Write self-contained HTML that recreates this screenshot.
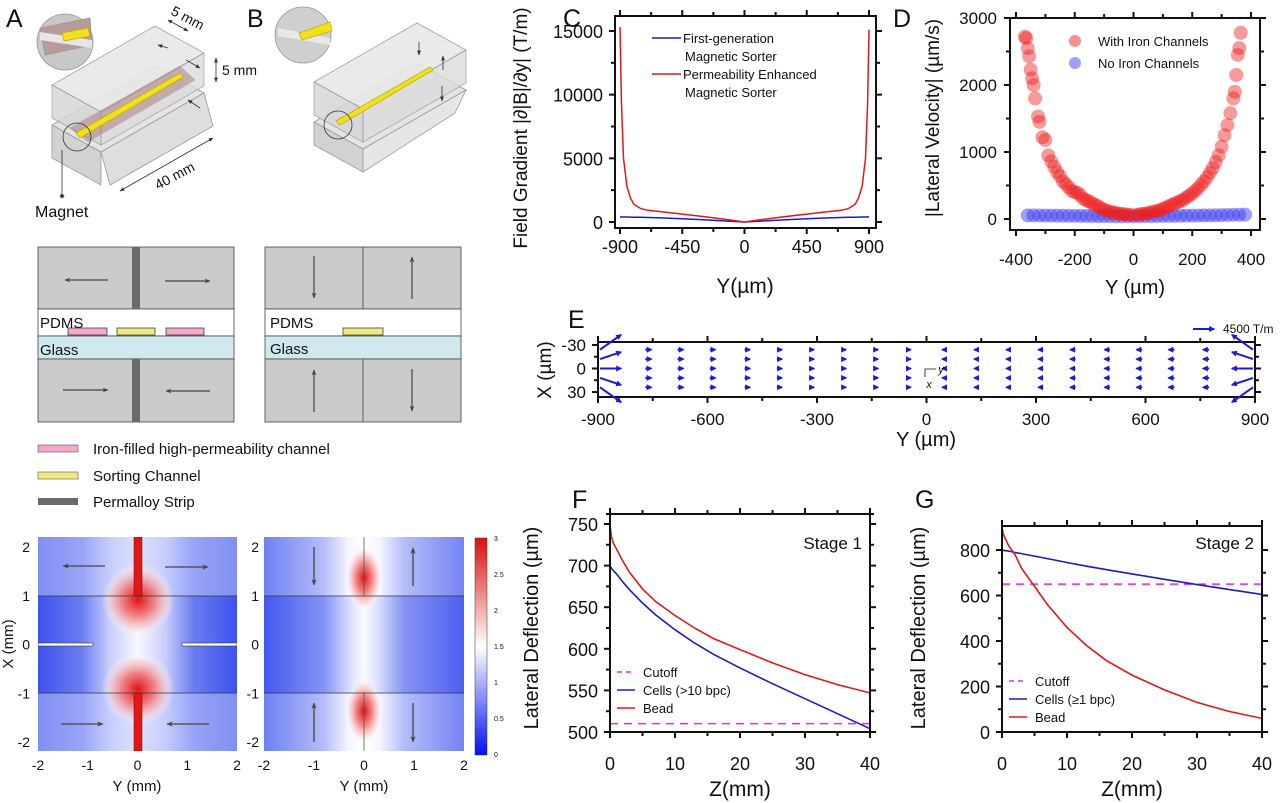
<!DOCTYPE html>
<html><head><meta charset="utf-8"><style>
html,body{margin:0;padding:0;background:#fff;}
svg{display:block;font-family:"Liberation Sans",Arial,sans-serif;}
</style></head><body>
<svg id="fig" width="1280" height="803" viewBox="0 0 1280 803" xmlns="http://www.w3.org/2000/svg">
<defs>
<linearGradient id="hmL" x1="0" x2="1" y1="0" y2="0">
<stop offset="0" stop-color="#3d52ee"/><stop offset="0.22" stop-color="#6c7df2"/><stop offset="0.36" stop-color="#c8cefb"/><stop offset="0.5" stop-color="#f8f8ff"/><stop offset="0.64" stop-color="#c8cefb"/><stop offset="0.78" stop-color="#6c7df2"/><stop offset="1" stop-color="#3d52ee"/></linearGradient>
<linearGradient id="hmR" x1="0" x2="1" y1="0" y2="0">
<stop offset="0" stop-color="#4358ef"/><stop offset="0.3" stop-color="#8593f4"/><stop offset="0.44" stop-color="#e0e4fd"/><stop offset="0.5" stop-color="#fafaff"/><stop offset="0.56" stop-color="#e0e4fd"/><stop offset="0.7" stop-color="#8593f4"/><stop offset="1" stop-color="#4d60f0"/></linearGradient>
<linearGradient id="hmRout" x1="0" x2="1" y1="0" y2="0">
<stop offset="0" stop-color="#6f80f3"/><stop offset="0.3" stop-color="#b4bdf8"/><stop offset="0.42" stop-color="#f4f5ff"/><stop offset="0.5" stop-color="#ffffff"/><stop offset="0.58" stop-color="#f4f5ff"/><stop offset="0.7" stop-color="#b4bdf8"/><stop offset="1" stop-color="#7383f3"/></linearGradient>
<radialGradient id="redBlob"><stop offset="0" stop-color="#e01010"/><stop offset="0.45" stop-color="#f07070" stop-opacity="0.85"/><stop offset="0.8" stop-color="#fbd0d0" stop-opacity="0.6"/><stop offset="1" stop-color="#ffffff" stop-opacity="0"/></radialGradient>
<linearGradient id="cbar" x1="0" x2="0" y1="0" y2="1"><stop offset="0" stop-color="#d81010"/><stop offset="0.5" stop-color="#ffffff"/><stop offset="1" stop-color="#0010f0"/></linearGradient>
<clipPath id="clipL"><rect x="38" y="537" width="199" height="214"/></clipPath>
<clipPath id="clipR"><rect x="264" y="537" width="200" height="214"/></clipPath>
<marker id="ah" viewBox="0 0 10 10" refX="9" refY="5" markerWidth="5" markerHeight="5" orient="auto"><path d="M0,1 L10,5 L0,9 L3,5z" fill="#444"/></marker>
<marker id="ahs" viewBox="0 0 10 10" refX="9" refY="5" markerWidth="6" markerHeight="6" orient="auto-start-reverse"><path d="M0,1 L10,5 L0,9z" fill="#333"/></marker>
</defs>

<g font-size="25" fill="#111">
<text x="6" y="27">A</text>
<text x="247" y="27">B</text>
<text x="563" y="27">C</text>
<text x="893" y="27">D</text>
<text x="568" y="328">E</text>
<text x="572" y="508">F</text>
<text x="915" y="508">G</text>
</g>

<g stroke="#999" stroke-width="0.8">
<circle cx="65" cy="42" r="28" fill="#c8c8c8"/>
<polygon points="40,28 90,18 92,45 45,55" fill="#b89a9a"/>
<polygon points="40,32 92,40 92,48 40,40" fill="#e6e6e6" stroke="none"/>
<polygon points="62,33 88,28 90,36 64,41" fill="#f0e020" stroke="#c0b000"/>
<g>
<polygon points="52,125 155,66 204,93 101,152" fill="#e4e4e4"/>
<polygon points="52,125 101,152 101,185 52,158" fill="#d2d2d2"/>
<polygon points="101,152 204,93 213,126 110,185" fill="#dedede"/>
</g>
<g>
<polygon points="52,85 155,26 204,53 101,112" fill="#e8e8e8" opacity="0.9"/>
<polygon points="52,85 101,112 101,145 52,118" fill="#d6d6d6" opacity="0.85"/>
<polygon points="101,112 204,53 204,86 101,145" fill="#dcdcdc" opacity="0.8"/>
</g>
<polygon points="70,128 180,66 195,80 88,142" fill="#b08080" opacity="0.55"/>
<polygon points="76,133 180,73 183,77 80,138" fill="#f0e020" stroke="#c0b000"/>
<circle cx="77" cy="137" r="14" fill="none" stroke="#333"/>
<line x1="62" y1="150" x2="62" y2="196" stroke="#333"/>
<circle cx="62" cy="196" r="2" fill="#333"/>
<line x1="168" y1="20" x2="188" y2="31" stroke="#333" marker-start="url(#ahs)" marker-end="url(#ahs)"/>
<line x1="216" y1="58" x2="216" y2="82" stroke="#333" marker-start="url(#ahs)" marker-end="url(#ahs)"/>
<line x1="120" y1="191" x2="213" y2="138" stroke="#333" marker-start="url(#ahs)" marker-end="url(#ahs)"/>
<line x1="168" y1="48" x2="158" y2="45" stroke="#333" marker-end="url(#ahs)"/>
<line x1="186" y1="60" x2="200" y2="68" stroke="#333" marker-end="url(#ahs)"/>
<line x1="200" y1="108" x2="188" y2="100" stroke="#333" marker-end="url(#ahs)"/>
</g>
<g font-size="14" fill="#111">
<text x="170" y="14" transform="rotate(28 170 14)">5 mm</text>
<text x="222" y="75">5 mm</text>
<text x="158" y="190" transform="rotate(-28 158 190)">40 mm</text>
<text x="35" y="217" font-size="16">Magnet</text>
</g>

<g stroke="#999" stroke-width="0.8">
<circle cx="303" cy="35" r="28" fill="#cfcfcf"/>
<polygon points="278,28 330,38 330,45 278,36" fill="#e8e8e8" stroke="none"/>
<polygon points="299,33 330,22 332,31 302,40" fill="#f0e020" stroke="#c0b000"/>
<g transform="translate(262,-3)">
<polygon points="52,125 155,66 204,93 101,152" fill="#e4e4e4"/>
<polygon points="52,125 101,152 101,175 52,148" fill="#d2d2d2"/>
<polygon points="101,152 204,93 193,116 101,175" fill="#e6e6e6"/>
<polygon points="52,85 155,26 204,53 101,112" fill="#e8e8e8" opacity="0.9"/>
<polygon points="52,85 101,112 101,145 52,118" fill="#d6d6d6" opacity="0.85"/>
<polygon points="101,112 204,53 204,86 101,145" fill="#dcdcdc" opacity="0.8"/>
<polygon points="74,124 168,70 171,73 78,128" fill="#f0e020" stroke="#c0b000"/>
<circle cx="76" cy="128" r="14" fill="none" stroke="#333"/>
</g>
<line x1="419" y1="42" x2="419" y2="55" stroke="#333" marker-end="url(#ahs)"/>
<line x1="443" y1="70" x2="443" y2="56" stroke="#333" marker-end="url(#ahs)"/>
<line x1="442" y1="86" x2="442" y2="101" stroke="#333" marker-end="url(#ahs)"/>
</g>

<g stroke="#444" stroke-width="0.8">
<rect x="38" y="247" width="196" height="62" fill="#cbcbcb"/>
<rect x="38" y="309" width="196" height="27" fill="#fff"/>
<rect x="38" y="336" width="196" height="23" fill="#cfe9ee"/>
<rect x="38" y="359" width="196" height="63" fill="#cbcbcb"/>
<rect x="132" y="247" width="8" height="62" fill="#6a6a6a" stroke="none"/>
<rect x="132" y="359" width="8" height="63" fill="#6a6a6a" stroke="none"/>
<rect x="68" y="328" width="39" height="7" fill="#f3a8cc"/>
<rect x="117" y="328" width="38" height="7" fill="#f0ea80"/>
<rect x="166" y="328" width="38" height="7" fill="#f3a8cc"/>
<line x1="108" y1="280" x2="65" y2="280" stroke="#444" stroke-width="1.2" marker-end="url(#ah)"/>
<line x1="165" y1="281" x2="210" y2="281" stroke="#444" stroke-width="1.2" marker-end="url(#ah)"/>
<line x1="63" y1="390" x2="108" y2="390" stroke="#444" stroke-width="1.2" marker-end="url(#ah)"/>
<line x1="210" y1="391" x2="166" y2="391" stroke="#444" stroke-width="1.2" marker-end="url(#ah)"/>
</g>
<g stroke="#444" stroke-width="0.8">
<rect x="265" y="247" width="196" height="62" fill="#cbcbcb"/>
<line x1="363" y1="247" x2="363" y2="309"/>
<rect x="265" y="309" width="196" height="27" fill="#fff"/>
<rect x="265" y="336" width="196" height="23" fill="#cfe9ee"/>
<rect x="265" y="359" width="196" height="63" fill="#cbcbcb"/>
<line x1="363" y1="359" x2="363" y2="422"/>
<rect x="343" y="328" width="40" height="7" fill="#f0ea80"/>
<line x1="314" y1="256" x2="314" y2="298" stroke-width="1.2" marker-end="url(#ah)"/>
<line x1="412" y1="299" x2="412" y2="257" stroke-width="1.2" marker-end="url(#ah)"/>
<line x1="314" y1="412" x2="314" y2="370" stroke-width="1.2" marker-end="url(#ah)"/>
<line x1="412" y1="369" x2="412" y2="411" stroke-width="1.2" marker-end="url(#ah)"/>
</g>
<g font-size="15" fill="#111">
<text x="40" y="328">PDMS</text><text x="40" y="355">Glass</text>
<text x="270" y="328">PDMS</text><text x="270" y="354">Glass</text>
</g>
<g font-size="15" fill="#111">
<rect x="38" y="445" width="40" height="7" fill="#f3a8cc" stroke="#555" stroke-width="0.6"/>
<text x="93" y="454">Iron-filled high-permeability channel</text>
<rect x="38" y="472" width="40" height="7" fill="#f0ea80" stroke="#555" stroke-width="0.6"/>
<text x="93" y="481">Sorting Channel</text>
<rect x="38" y="498" width="40" height="7" fill="#6a6a6a"/>
<text x="93" y="507">Permalloy Strip</text>
</g>

<g clip-path="url(#clipL)">
<rect x="38" y="537" width="199" height="214" fill="url(#hmL)"/>
<rect x="38" y="537" width="199" height="59" fill="#c4cbfb" opacity="0.5"/>
<rect x="38" y="693" width="199" height="58" fill="#c4cbfb" opacity="0.5"/>
<circle cx="138" cy="600" r="36" fill="url(#redBlob)"/>
<circle cx="138" cy="689" r="36" fill="url(#redBlob)"/>
<rect x="134" y="537" width="8" height="59" fill="#e01818" stroke="#700" stroke-width="0.5"/>
<rect x="134" y="693" width="8" height="58" fill="#e01818" stroke="#700" stroke-width="0.5"/>
<line x1="38" y1="596" x2="237" y2="596" stroke="#333" stroke-width="0.8"/>
<line x1="38" y1="693" x2="237" y2="693" stroke="#333" stroke-width="0.8"/>
<rect x="38" y="643" width="55" height="3" fill="#fff" stroke="#333" stroke-width="0.6"/>
<rect x="182" y="643" width="55" height="3" fill="#fff" stroke="#333" stroke-width="0.6"/>
<line x1="105" y1="566" x2="63" y2="566" stroke="#444" stroke-width="1.3" marker-end="url(#ah)"/>
<line x1="165" y1="567" x2="208" y2="567" stroke="#444" stroke-width="1.3" marker-end="url(#ah)"/>
<line x1="61" y1="724" x2="103" y2="724" stroke="#444" stroke-width="1.3" marker-end="url(#ah)"/>
<line x1="209" y1="724" x2="167" y2="724" stroke="#444" stroke-width="1.3" marker-end="url(#ah)"/>
</g>
<g clip-path="url(#clipR)">
<rect x="264" y="537" width="200" height="214" fill="url(#hmR)"/>
<rect x="264" y="537" width="200" height="59" fill="url(#hmRout)"/>
<rect x="264" y="693" width="200" height="58" fill="url(#hmRout)"/>
<ellipse cx="364" cy="578" rx="18" ry="32" fill="url(#redBlob)"/>
<ellipse cx="364" cy="711" rx="18" ry="32" fill="url(#redBlob)"/>
<line x1="364" y1="537" x2="364" y2="596" stroke="#555" stroke-width="0.8"/>
<line x1="364" y1="693" x2="364" y2="751" stroke="#555" stroke-width="0.8"/>
<line x1="264" y1="596" x2="464" y2="596" stroke="#333" stroke-width="0.8"/>
<line x1="264" y1="693" x2="464" y2="693" stroke="#333" stroke-width="0.8"/>
<line x1="314" y1="547" x2="314" y2="585" stroke="#444" stroke-width="1.3" marker-end="url(#ah)"/>
<line x1="413" y1="586" x2="413" y2="548" stroke="#444" stroke-width="1.3" marker-end="url(#ah)"/>
<line x1="314" y1="742" x2="314" y2="703" stroke="#444" stroke-width="1.3" marker-end="url(#ah)"/>
<line x1="413" y1="703" x2="413" y2="742" stroke="#444" stroke-width="1.3" marker-end="url(#ah)"/>
</g>
<rect x="475" y="538" width="12" height="217" fill="url(#cbar)" stroke="#333" stroke-width="0.5"/>
<g id="cbarlabels" font-size="7" fill="#333"></g>
<g id="hmaxes" font-size="14" fill="#111"></g>

<g id="charts"></g>
</svg>
<script>
// ---------- DATA ----------
const cYpos = [-900,-890,-875,-850,-825,-800,-750,-700,-600,-450,-300,-150,0,150,300,450,600,700,750,800,825,850,875,890,900];
const cRed = [15300,9500,5000,2800,1900,1400,1050,920,800,620,430,230,0,230,430,620,800,920,1050,1400,1900,2800,5000,9300,15100];
const cBlue = [400,398,395,390,385,380,370,355,320,260,180,90,0,90,180,260,320,355,370,380,385,390,395,398,400];
const cXTicks = [-900,-450,0,450,900];
const cYTicks = [0,5000,10000,15000];

const dRedY = [-370,-365,-360,-355,-350,-345,-340,-335,-325,-320,-310,-300,-290,-280,-270,-260,-250,-240,-230,-220,-210,-200,-190,-180,-170,-160,-150,-140,-130,-120,-110,-100,-90,-80,-70,-60,-50,-40,-30,-20,-10,10,20,30,40,50,60,70,80,90,100,110,120,130,140,150,160,170,180,190,200,210,220,230,240,250,260,270,280,290,300,310,320,330,340,345,350,355,360,365];
const dRedV = [2720,2700,2550,2430,2230,2100,2000,1800,1530,1450,1220,1180,950,860,780,700,640,560,520,470,420,400,390,350,300,280,260,230,210,190,160,140,120,110,100,90,80,75,70,65,60,60,70,75,80,90,100,110,120,130,150,170,190,210,230,250,270,290,320,350,380,420,460,510,560,620,690,760,850,950,1080,1250,1400,1580,1800,1900,2150,2450,2550,2780];
const dBlueY = [-360,-340,-320,-300,-280,-260,-240,-220,-200,-180,-160,-140,-120,-100,-80,-60,-40,-20,0,20,40,60,80,100,120,140,160,180,200,220,240,260,280,300,320,340,360,380];
const dBlueV = [55,55,52,52,50,50,48,48,47,46,45,44,43,42,42,41,40,40,40,41,42,43,44,45,46,47,48,50,51,52,54,55,56,58,60,62,63,65];
const dXTicks = [-400,-200,0,200,400];
const dYTicks = [0,1000,2000,3000];

const eColY = [-875,-762,-674,-586,-491,-403,-315,-227,-139,-49,49,137,225,313,401,495,583,671,766,875];
const eColG = [4500,1300,1250,1200,1150,1100,1050,1000,950,900,-900,-950,-1000,-1050,-1100,-1150,-1200,-1250,-1300,-4500];
const eRowX = [-24,-12,0,12,24];
const eEdgeGx = [-3200,-1500,0,1500,3200];
const eXTicks = [-900,-600,-300,0,300,600,900];
const eYTicks = [-30,0,30];

const fZ = [0,0.2,0.5,1,2,3,5,7,10,13,16,20,25,30,35,40];
const fBead = [750,735,727,720,705,692,672,657,640,625,612,599,583,569,557,547];
const fCells = [700,697,694,690,680,671,655,641,623,607,593,577,558,540,522,504];
const fCutoff = 510;
const fYTicks = [500,550,600,650,700,750];
const zTicks = [0,10,20,30,40];

const gZ = [0,0.2,0.5,1,2,3,5,7,10,13,16,20,25,30,35,40];
const gBead = [900,870,850,820,780,720,640,560,460,380,315,250,185,130,90,60];
const gCells = [800,799,797,795,789,784,773,762,745,729,714,695,671,648,626,605];
const gCutoff = 650;
const gYTicks = [0,200,400,600,800];

const hmTicks = [-2,-1,0,1,2];
const cbarTicks = ['3','2.5','2','1.5','1','0.5','0'];

// ---------- helpers ----------
const NS = 'http://www.w3.org/2000/svg';
const root = document.getElementById('charts');
function el(tag, attrs, parent){
  const e = document.createElementNS(NS, tag);
  for (const k in attrs) e.setAttribute(k, attrs[k]);
  (parent || root).appendChild(e);
  return e;
}
function txt(s, x, y, size, anchor, parent){
  const t = el('text', {x:x, y:y, 'font-size':size, 'text-anchor':anchor||'middle', fill:'#111'}, parent);
  t.textContent = s;
  return t;
}
function linScale(d0,d1,r0,r1){ return v => r0 + (v-d0)/(d1-d0)*(r1-r0); }
function pathD(xs, ys, sx, sy){ return xs.map((v,i)=>(i?'L':'M')+sx(v).toFixed(1)+','+sy(ys[i]).toFixed(1)).join(' '); }

function frame(g, box, xs, ys, xt, yt, xminor, yminor, lw){
  el('rect', {x:box.x0, y:box.y0, width:box.x1-box.x0, height:box.y1-box.y0, fill:'none', stroke:'#111', 'stroke-width':lw||2}, g);
  const tk = (x1,y1,x2,y2)=>el('line',{x1:x1,y1:y1,x2:x2,y2:y2,stroke:'#111','stroke-width':lw||2},g);
  xt.forEach(v=>{ const x=xs(v); tk(x,box.y1,x,box.y1+6); tk(x,box.y0,x,box.y0-6); });
  xminor.forEach(v=>{ const x=xs(v); tk(x,box.y1,x,box.y1+4); tk(x,box.y0,x,box.y0-4); });
  yt.forEach(v=>{ const y=ys(v); tk(box.x0,y,box.x0-6,y); tk(box.x1,y,box.x1+6,y); });
  yminor.forEach(v=>{ const y=ys(v); tk(box.x0,y,box.x0-4,y); tk(box.x1,y,box.x1+4,y); });
}
function mids(t){ const m=[]; for(let i=0;i<t.length-1;i++) m.push((t[i]+t[i+1])/2); return m; }

// arrow marker for blue arrows
(function(){
  const defs = document.querySelector('defs');
  const m = document.createElementNS(NS,'marker');
  m.setAttribute('id','ahb'); m.setAttribute('viewBox','0 0 10 10'); m.setAttribute('refX','8'); m.setAttribute('refY','5');
  m.setAttribute('markerWidth','3'); m.setAttribute('markerHeight','3'); m.setAttribute('orient','auto');
  const p = document.createElementNS(NS,'path'); p.setAttribute('d','M0,0 L10,5 L0,10z'); p.setAttribute('fill','#1a1add');
  m.appendChild(p); defs.appendChild(m);
})();

// ---------- Chart C ----------
(function(){
  const g = el('g', {});
  
  
  const box = {x0:615,x1:876,y0:16,y1:228};
  const xs = linScale(-900,900,620,869), ys = linScale(0,15000,222,31);
  frame(g, box, xs, ys, cXTicks, cYTicks, mids(cXTicks), [2500,7500,12500], 2);
  cXTicks.forEach(v=>{ const t=txt(String(v), xs(v), 253, 18, 'middle', g);
    
     });
  cYTicks.forEach(v=>{ const t=txt(String(v), 603, ys(v)+7, 18, 'end', g);
    
     });
  const xl = txt('Y(\u00b5m)', 745, 293, 21, 'middle', g);
  
  
  const yl = txt('Field Gradient |\u2202|B|/\u2202y| (T/m)', 0, 0, 19, 'middle', g);
  yl.setAttribute('transform', 'translate(527,128) rotate(-90)');
  
  
  const blue = el('path', {d:pathD(cYpos,cBlue,xs,ys), fill:'none', stroke:'#1a1acc', 'stroke-width':1.5}, g);
  
  
  const red = el('path', {d:pathD(cYpos,cRed,xs,ys), fill:'none', stroke:'#e01818', 'stroke-width':1.5}, g);
  
  
  const lg = el('g', {}, g);
  
  
  el('line',{x1:652,y1:38,x2:681,y2:38,stroke:'#1a1acc','stroke-width':1.5},lg);
  el('line',{x1:652,y1:74,x2:681,y2:74,stroke:'#e01818','stroke-width':1.5},lg);
  txt('First-generation',683,43,13,'start',lg);
  txt('Magnetic Sorter',685,61,13,'start',lg);
  txt('Permeability Enhanced',683,79,13,'start',lg);
  txt('Magnetic Sorter',685,97,13,'start',lg);
})();

// ---------- Chart D ----------
(function(){
  const g = el('g', {});
  
  
  const box = {x0:1010,x1:1260,y0:18,y1:230};
  const xs = linScale(-400,400,1016,1251), ys = linScale(0,3000,219,18);
  frame(g, box, xs, ys, dXTicks, dYTicks, mids(dXTicks), [500,1500,2500], 2);
  dXTicks.forEach(v=>{ const t=txt(String(v), xs(v), 265, 17, 'middle', g);
    
     });
  dYTicks.forEach(v=>{ const t=txt(String(v), 997, ys(v)+6, 17, 'end', g);
    
     });
  const xl = txt('Y (\u00b5m)', 1135, 294, 20, 'middle', g);
  
  
  const yl = txt('|Lateral Velocity| (\u00b5m/s)', 0, 0, 19, 'middle', g);
  yl.setAttribute('transform', 'translate(939,118) rotate(-90)');
  
  
  dBlueY.forEach((v,i)=>{
    const c = el('circle',{cx:xs(v),cy:ys(dBlueV[i]),r:7,fill:'#3f3ff0','fill-opacity':0.5},g);
    
    
  });
  dRedY.forEach((v,i)=>{
    const c = el('circle',{cx:xs(v),cy:ys(dRedV[i]),r:7,fill:'#ee2020','fill-opacity':0.45},g);
    
    
  });
  const lg = el('g', {}, g);
  
  
  el('circle',{cx:1075,cy:41,r:6,fill:'#ee2020','fill-opacity':0.5},lg);
  el('circle',{cx:1075,cy:63,r:6,fill:'#3f3ff0','fill-opacity':0.5},lg);
  txt('With Iron Channels',1098,46,13,'start',lg);
  txt('No Iron Channels',1098,68,13,'start',lg);
})();

// ---------- Chart E ----------
(function(){
  const g = el('g', {});
  
  
  const box = {x0:598,x1:1255,y0:342,y1:397};
  const xs = linScale(-900,900,598,1255), ys = linScale(-30,30,345,392);
  frame(g, box, xs, ys, eXTicks, eYTicks, mids(eXTicks), [-15,15], 2);
  eXTicks.forEach(v=>{ const t=txt(String(v), xs(v), 425, 17, 'middle', g);
    
     });
  eYTicks.forEach(v=>{ const t=txt(String(v), 586, ys(v)+6, 17, 'end', g);
    
     });
  const xl = txt('Y (\u00b5m)', 926, 446, 20, 'middle', g);
  
  
  const yl = txt('X (\u00b5m)', 0, 0, 19, 'middle', g);
  yl.setAttribute('transform', 'translate(551,370) rotate(-90)');
  
  
  const pxPerT = 21/4500;
  eColY.forEach((cy,i)=>{
    eRowX.forEach((rx,j)=>{
      const edge = (i===0 || i===eColY.length-1);
      const gy = eColG[i];
      const gx = edge ? eEdgeGx[j] : 0;
      let x0 = xs(cy), y0 = ys(rx);
      const dx = gy*pxPerT, dy = gx*pxPerT;
      if (edge){ x0 = gy>0 ? 600 : 1253; }
      else { x0 -= dx/2; }
      const a = el('line',{x1:x0,y1:y0,x2:x0+dx,y2:y0+dy,stroke:'#1a1add','stroke-width':2,'marker-end':'url(#ahb)'},g);
      
      
    });
  });
  const lg = el('g', {}, g);
  
  
  el('line',{x1:1193,y1:329,x2:1214,y2:329,stroke:'#1a1add','stroke-width':2,'marker-end':'url(#ahb)'},lg);
  txt('4500 T/m',1223,333,12,'start',lg);
  const ax = el('g', {}, g);
  
  
  el('polyline',{points:'925,377 925,369 936,369',fill:'none',stroke:'#111','stroke-width':0.8},ax);
  const ty = txt('y',941,373,11,'middle',ax); ty.setAttribute('font-style','italic');
  const tx = txt('x',929,388,11,'middle',ax); tx.setAttribute('font-style','italic');
})();

// ---------- Charts F & G ----------
function deflectionChart(opt){
  const g = el('g', {});
  
  
  const box = opt.box;
  const xs = linScale(0,40,box.x0,box.x1), ys = linScale(opt.ymin,opt.ymax,opt.yr0,opt.yr1);
  const cid = opt.name+'-clip';
  const cp = el('clipPath',{id:cid},g); el('rect',{x:box.x0,y:box.y0,width:box.x1-box.x0,height:box.y1-box.y0},cp);
  const lines = el('g',{'clip-path':'url(#'+cid+')'},g);
  const cut = el('line',{x1:box.x0,x2:box.x1,y1:ys(opt.cutoff),y2:ys(opt.cutoff),stroke:'#ee22ee','stroke-width':1.5,'stroke-dasharray':'8,6'},lines);
  
  
  const cl = el('path',{d:pathD(opt.z,opt.cells,xs,ys),fill:'none',stroke:'#1a1acc','stroke-width':1.6},lines);
  
  
  const bl = el('path',{d:pathD(opt.z,opt.bead,xs,ys),fill:'none',stroke:'#e01818','stroke-width':1.6},lines);
  
  
  frame(g, box, xs, ys, zTicks, opt.yt, mids(zTicks), opt.yminor, 2);
  zTicks.forEach(v=>{ const t=txt(String(v), xs(v), 770, 18, 'middle', g);
    
     });
  opt.yt.forEach(v=>{ const t=txt(String(v), box.x0-12, ys(v)+7, 18, 'end', g);
    
     });
  const xl = txt('Z(mm)', (box.x0+box.x1)/2, 796, 21, 'middle', g);
  
  
  const yl = txt('Lateral Deflection (\u00b5m)', 0, 0, 20, 'middle', g);
  yl.setAttribute('transform', 'translate('+opt.ylx+',628) rotate(-90)');
  
  
  const st = txt(opt.stage, box.x1-8, 549, 17, 'end', g);
  
  
  const lg = el('g', {}, g);
  
  
  const lx = box.x0+7, ly = opt.legY;
  el('line',{x1:lx,x2:lx+18,y1:ly,y2:ly,stroke:'#ee22ee','stroke-width':1.5,'stroke-dasharray':'5,4'},lg);
  el('line',{x1:lx,x2:lx+18,y1:ly+18,y2:ly+18,stroke:'#1a1acc','stroke-width':1.6},lg);
  el('line',{x1:lx,x2:lx+18,y1:ly+36,y2:ly+36,stroke:'#e01818','stroke-width':1.6},lg);
  txt('Cutoff',lx+26,ly+5,13,'start',lg);
  txt(opt.cellsLabel,lx+26,ly+23,13,'start',lg);
  txt('Bead',lx+26,ly+41,13,'start',lg);
}
deflectionChart({name:'chart-f-stage1', box:{x0:610,x1:870,y0:514,y1:732}, ymin:500, ymax:750, yr0:732, yr1:524,
  z:fZ, bead:fBead, cells:fCells, cutoff:fCutoff, yt:fYTicks, yminor:[525,575,625,675,725,762],
  stage:'Stage 1', legY:672, cellsLabel:'Cells (>10 bpc)', ylx:538});
deflectionChart({name:'chart-g-stage2', box:{x0:1002,x1:1262,y0:526,y1:732}, ymin:0, ymax:800, yr0:732, yr1:550,
  z:gZ, bead:gBead, cells:gCells, cutoff:gCutoff, yt:gYTicks, yminor:[100,300,500,700],
  stage:'Stage 2', legY:681, cellsLabel:'Cells (\u22651 bpc)', ylx:925});

// ---------- heatmap axes ----------
(function(){
  const g = document.getElementById('hmaxes');
  const xL = linScale(-2,2,38,237), xR = linScale(-2,2,264,464), yH = linScale(2,-2,547,742);
  hmTicks.forEach(v=>{
    const a = txt(String(v), xL(v), 770, 14, 'middle', g);
    
    
    const b = txt(String(v), xR(v), 770, 14, 'middle', g);
    
    
    const c = txt(String(v), 30, yH(v)+5, 14, 'end', g);
    
    
    const d = txt(String(v), 259, yH(v)+5, 14, 'end', g);
    
    
  });
  const t1 = txt('Y (mm)', 137, 791, 15, 'middle', g);
  
  
  const t2 = txt('Y (mm)', 364, 791, 15, 'middle', g);
  
  
  const t3 = txt('X (mm)', 0, 0, 15, 'middle', g);
  t3.setAttribute('transform', 'translate(13,644) rotate(-90)');
  
  
  const cb = document.getElementById('cbarlabels');
  cbarTicks.forEach((s,i)=>{
    const t = txt(s, 494, 541+i*36, 7, 'start', cb);
    
    
  });
})();
</script>
</body></html>
